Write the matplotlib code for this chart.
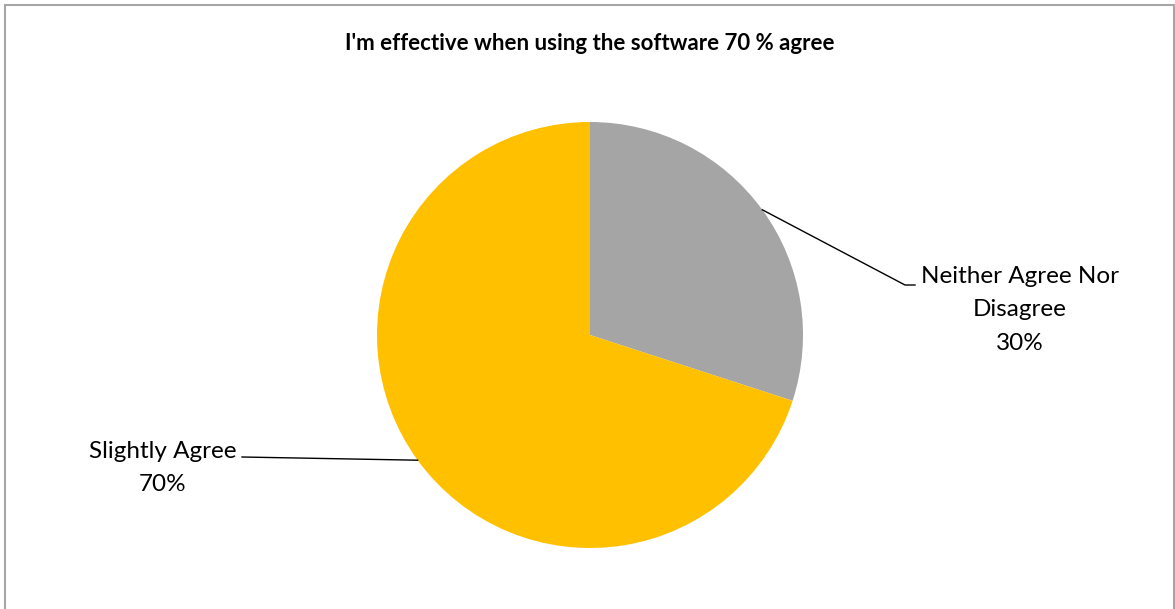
import numpy as np
import matplotlib.pyplot as plt
from matplotlib.patches import Rectangle

# survey answers
labels = ["Neither Agree Nor\nDisagree", "Slightly Agree"]
shares = [30, 70]
colors = ["#a5a5a5", "#ffc000"]
title = "I'm effective when using the software 70 % agree"

W, H = 1175, 609
fig = plt.figure(figsize=(W / 100, H / 100), dpi=100)
ax = fig.add_axes([0, 0, 1, 1])

cx, cy, r = 590, 274, 213
wedges, _ = ax.pie(shares, colors=colors, startangle=90, counterclock=False,
                   radius=r, center=(cx, cy), frame=True,
                   wedgeprops=dict(linewidth=0))
ax.set_xlim(0, W)
ax.set_ylim(0, H)
ax.set_aspect("equal")
ax.axis("off")

# chart frame (bottom edge runs off the image)
ax.add_patch(Rectangle((5, -10), 1169, H + 5, fill=False,
                       edgecolor="#a6a6a6", linewidth=1.5))

font = "Lato"
ax.text(cx, H - 43, title, ha="center", va="center", fontsize=16,
        fontweight="bold", family=font)

# label anchors: (elbow point, line end, text position)
layout = [
    ((905, 324), (915, 324), (1020, 299)),
    ((242, 152), (242, 152), (163, 141)),
]
for w, val, lab, (elbow, end, tpos) in zip(wedges, shares, labels, layout):
    mid = np.deg2rad((w.theta1 + w.theta2) / 2)
    px, py = cx + r * np.cos(mid), cy + r * np.sin(mid)
    ax.plot([px, elbow[0], end[0]], [py, elbow[1], end[1]], color="black",
            linewidth=1)
    ax.text(tpos[0], tpos[1], f"{lab}\n{val}%", ha="center", va="center",
            multialignment="center", fontsize=17.5, family=font,
            linespacing=1.72)

fig.savefig("out.png", dpi=100)
